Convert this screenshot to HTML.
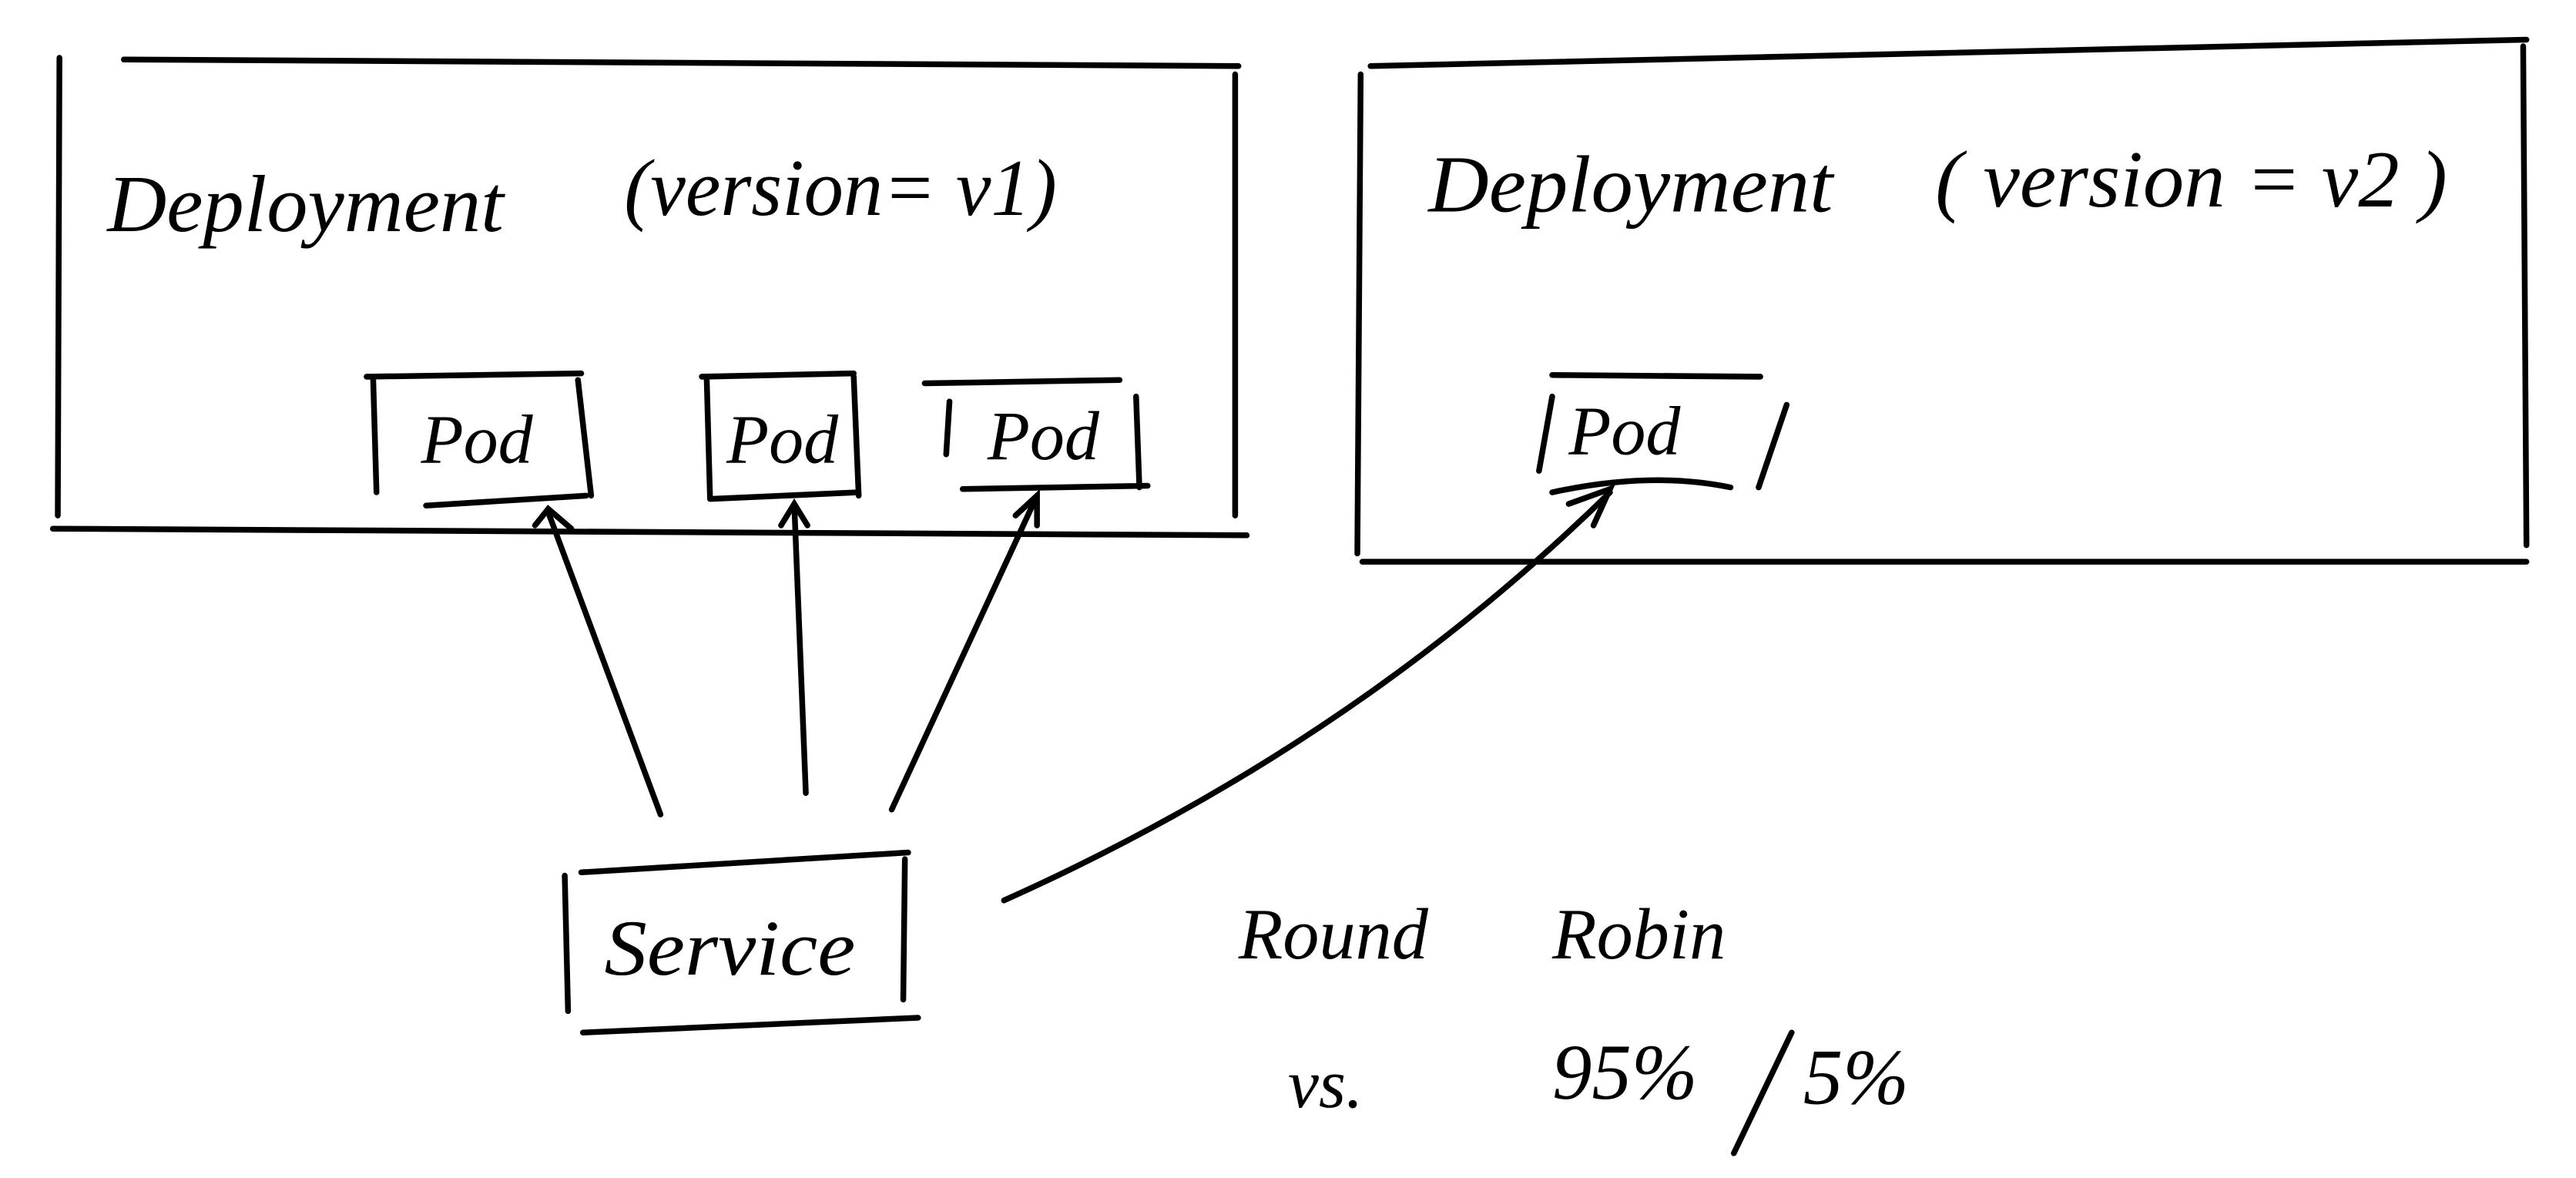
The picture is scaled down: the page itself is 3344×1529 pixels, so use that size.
<!DOCTYPE html>
<html><head><meta charset="utf-8"><style>
html,body{margin:0;padding:0;background:#fff;}
svg{display:block;}
text{font-family:"Liberation Serif",serif;font-style:italic;fill:#000;}
</style></head><body>
<svg width="3344" height="1529" viewBox="0 0 1560 713" preserveAspectRatio="none" xmlns="http://www.w3.org/2000/svg">
<g fill="none" stroke="#000" stroke-width="3.5" stroke-linecap="round">
<path d="M75 36 L750 40"/>
<path d="M36 35 L35 312"/>
<path d="M32 320 L755 324"/>
<path d="M748 45 L748 312"/>
<path d="M830 40 L1530 24"/>
<path d="M824 45 L822 335"/>
<path d="M825 340 L1530 340"/>
<path d="M1528 28 L1530 330"/>
<path d="M222 228 L352 226 M226 230 L228 298 M350 230 L358 300 M258 306 L355 300"/>
<path d="M425 228 L517 226 M428 230 L430 302 M517 228 L520 300 M430 302 L520 298"/>
<path d="M560 232 L678 230 M575 243 L573 275 M688 240 L690 295 M583 296 L695 294"/>
<path d="M940 227 L1066 228 M940 240 L932 285 M1082 245 L1065 295 M940 298 Q1000 285 1048 295"/>
<path d="M352 528 L550 516 M342 530 L344 612 M548 520 L547 605 M353 625 L556 616"/>
<path d="M400 493 L332 310 M324 318 L332 308 L346 320"/>
<path d="M488 480 L481 305 M473 318 L481 305 L489 318"/>
<path d="M540 490 L628 300 M615 312 L628 300 L628 318"/>
<path d="M608 545 Q820 450 975 298 M950 305 L975 296 L965 318"/>
<path d="M1085 625 L1050 698"/>
</g>
<text x="65" y="140" font-size="49" textLength="240" lengthAdjust="spacingAndGlyphs">Deployment</text>
<text x="378" y="130" font-size="49" textLength="262" lengthAdjust="spacingAndGlyphs">(version= v1)</text>
<text x="865" y="128" font-size="49" textLength="245" lengthAdjust="spacingAndGlyphs">Deployment</text>
<text x="1172" y="125" font-size="49" textLength="310" lengthAdjust="spacingAndGlyphs">( version = v2 )</text>
<text x="255" y="280" font-size="42">Pod</text>
<text x="440" y="280" font-size="42">Pod</text>
<text x="598" y="278" font-size="42">Pod</text>
<text x="950" y="275" font-size="42">Pod</text>
<text x="366" y="590" font-size="48" textLength="152" lengthAdjust="spacingAndGlyphs">Service</text>
<text x="750" y="580" font-size="44">Round</text>
<text x="940" y="580" font-size="44">Robin</text>
<text x="780" y="670" font-size="42">vs.</text>
<text x="940" y="665" font-size="48">95%</text>
<text x="1092" y="668" font-size="48">5%</text>
</svg>
</body></html>
